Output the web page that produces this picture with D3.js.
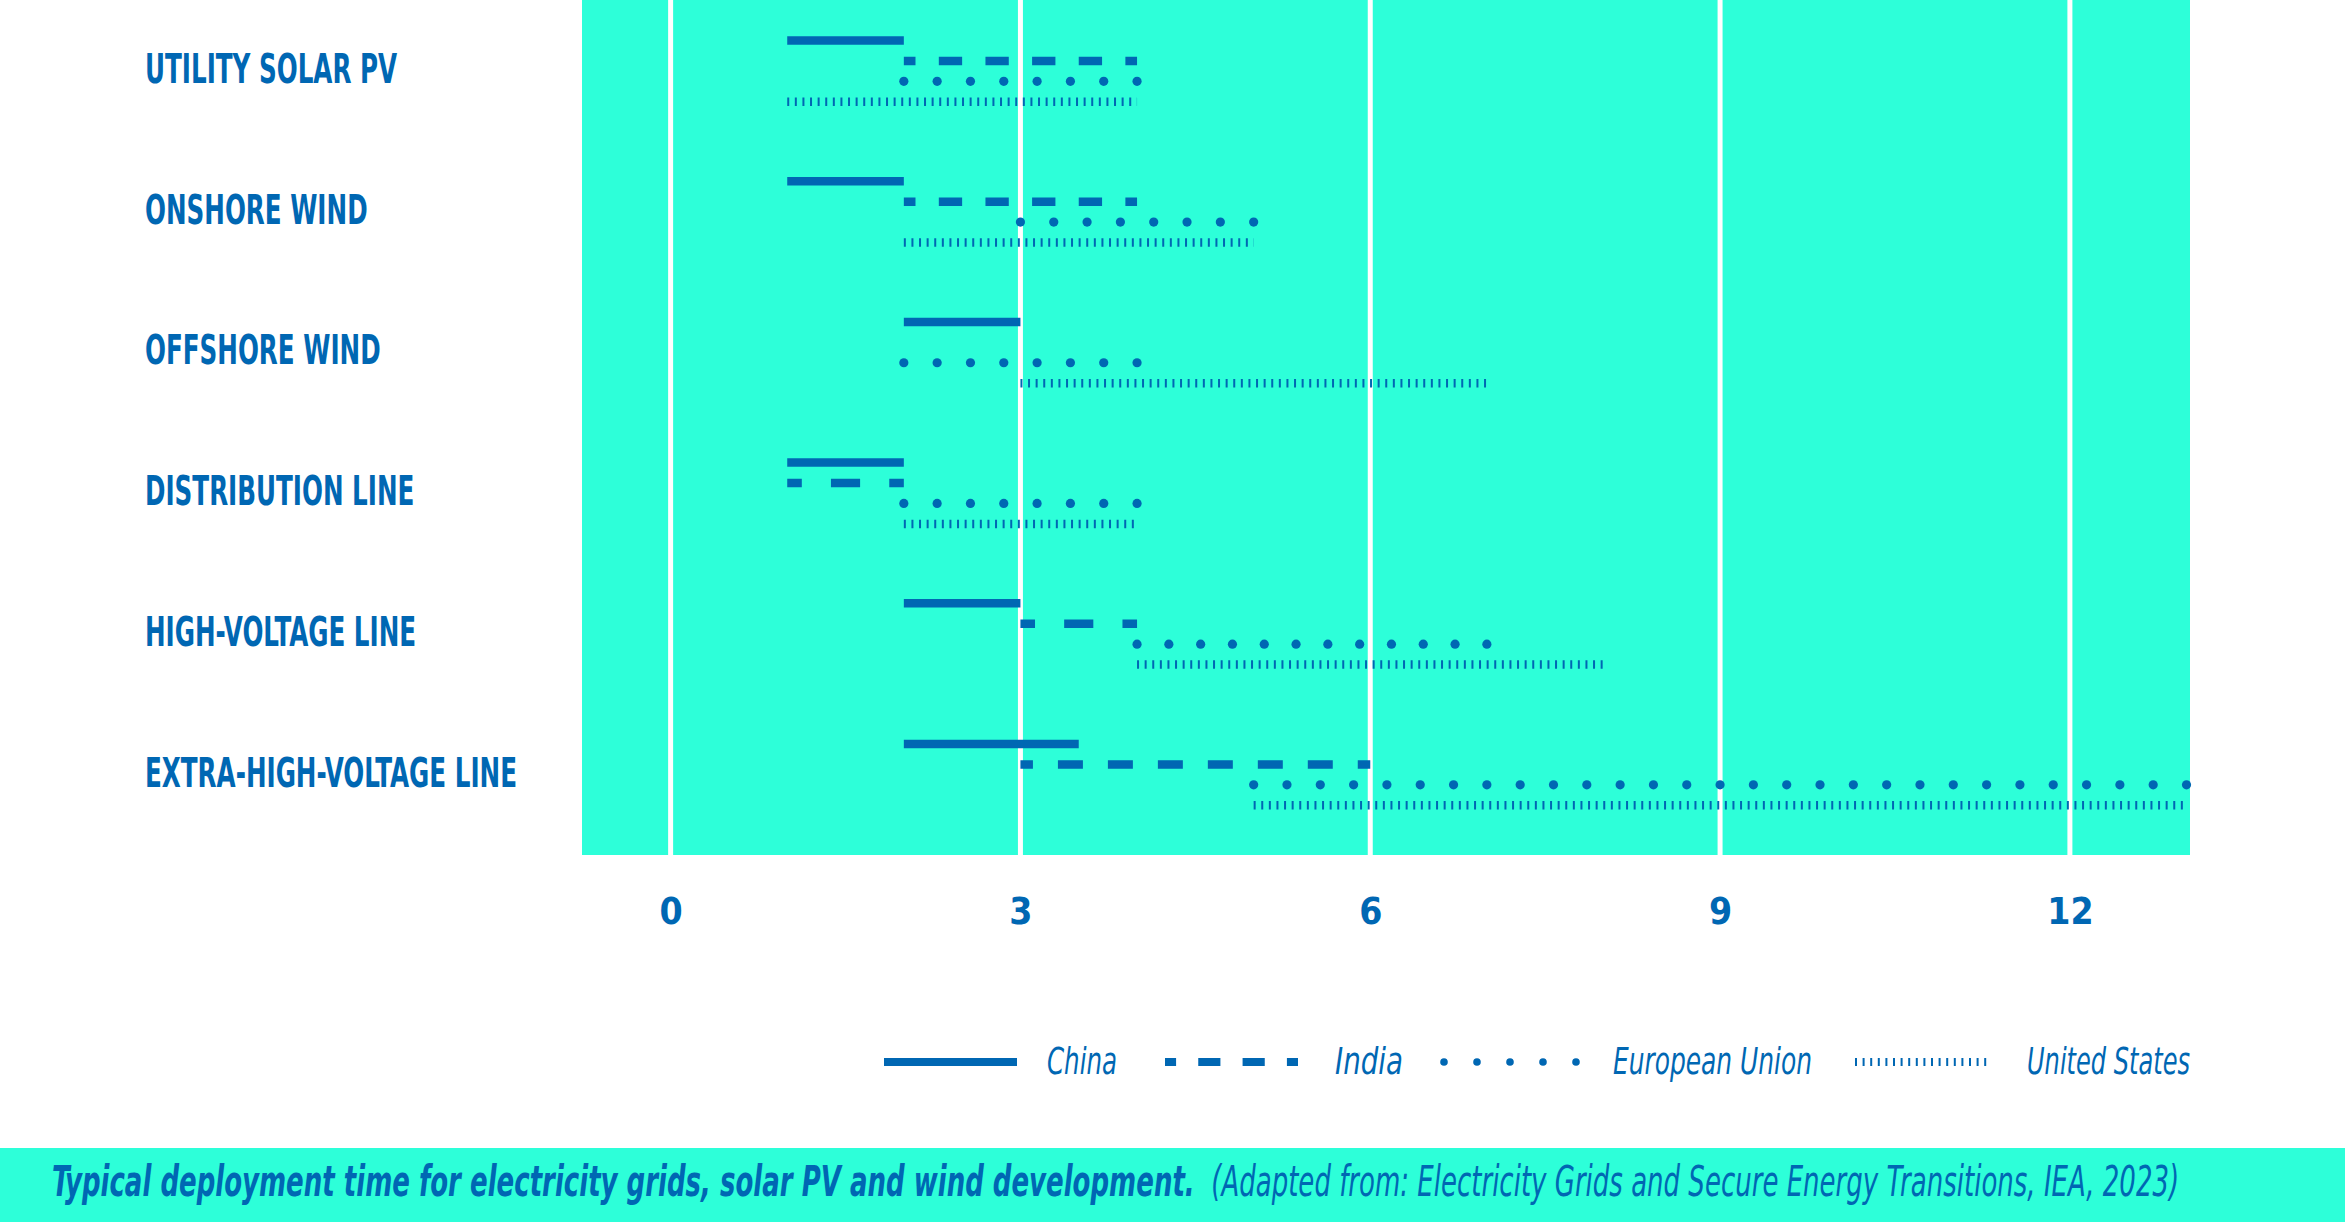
<!DOCTYPE html>
<html>
<head>
<meta charset="utf-8">
<script src="https://cdn.jsdelivr.net/npm/d3@7"></script>
<style>
  html, body { margin: 0; padding: 0; background: #ffffff; }
  svg { display: block; }
</style>
</head>
<body>
<svg id="chart" width="2345" height="1222"></svg>
<script>
// ---------------- DATA ----------------
const categories = [
  "UTILITY SOLAR PV",
  "ONSHORE WIND",
  "OFFSHORE WIND",
  "DISTRIBUTION LINE",
  "HIGH-VOLTAGE LINE",
  "EXTRA-HIGH-VOLTAGE LINE"
];
const seriesNames = ["China", "India", "European Union", "United States"];
// typical deployment time ranges in years [from, to]
const chinaRange = [[1, 2], [1, 2], [2, 3], [1, 2], [2, 3], [2, 3.5]];
const indiaRange = [[2, 4], [2, 4], null, [1, 2], [3, 4], [3, 6]];
const euRange    = [[2, 4], [3, 5], [2, 4], [2, 4], [4, 7], [5, 13]];
const usRange    = [[1, 4], [2, 5], [3, 7], [2, 4], [4, 8], [5, 13]];
const xTickValues = [0, 3, 6, 9, 12];
const captionBold = "Typical deployment time for electricity grids, solar PV and wind development.";
const captionRegular = "(Adapted from: Electricity Grids and Secure Energy Transitions, IEA, 2023)";

// ---------------- STYLE / LAYOUT ----------------
const TEAL = "#2dffd9";
const BLUE = "#0067b3";
const FONT = "'Liberation Sans Narrow', 'DejaVu Sans Condensed', 'Roboto', sans-serif";

const svg = d3.select("#chart");

const x = d3.scaleLinear().domain([-0.76, 13.03]).range([582, 2190]);
const y = d3.scaleBand().domain(categories).range([0, 6 * 140.7]);
const ySub = d3.scalePoint().domain(seriesNames).range([40.5, 101.8]);
const plotBottom = 855;

// background panel
svg.append("rect")
  .attr("x", x(-0.76)).attr("y", 0)
  .attr("width", x(13.03) - x(-0.76)).attr("height", plotBottom)
  .attr("fill", TEAL);

// grid lines
svg.append("g").selectAll("line").data(xTickValues).join("line")
  .attr("x1", d => x(d)).attr("x2", d => x(d))
  .attr("y1", 0).attr("y2", plotBottom)
  .attr("stroke", "#ffffff").attr("stroke-width", 5);

// axis labels (d3 axis, domain/ticks hidden)
const axis = d3.axisBottom(x).tickValues(xTickValues).tickSize(0).tickPadding(0).tickFormat(d3.format("d"));
const axG = svg.append("g").attr("transform", `translate(0,${924})`).call(axis);
axG.select(".domain").remove();
axG.selectAll("text")
  .attr("dy", 0).attr("y", 0)
  .attr("fill", BLUE)
  .style("font-family", FONT).style("font-weight", "bold").style("font-size", "37px");

// ---------------- series drawing ----------------
function fitDash(len, period) {
  const n = Math.max(1, Math.round(len / period));
  return len / n;
}
const drawers = {
  "China": (g, x0, x1, yy, w) => {
    g.append("line").attr("x1", x0).attr("x2", x1).attr("y1", yy).attr("y2", yy)
      .attr("stroke", BLUE).attr("stroke-width", w || 8.5);
  },
  "India": (g, x0, x1, yy, w) => {
    const p = fitDash(x1 - x0, 47);
    g.append("line").attr("x1", x0).attr("x2", x1).attr("y1", yy).attr("y2", yy)
      .attr("stroke", BLUE).attr("stroke-width", w || 8.5)
      .attr("stroke-dasharray", `${p / 2},${p / 2}`)
      .attr("stroke-dashoffset", p / 4);
  },
  "European Union": (g, x0, x1, yy, w, period) => {
    const p = fitDash(x1 - x0, period || 33.3);
    const n = Math.round((x1 - x0) / p);
    g.selectAll(null).data(d3.range(n + 1)).join("circle")
      .attr("cx", k => x0 + k * p).attr("cy", yy)
      .attr("r", (w || 9.2) / 2)
      .attr("fill", BLUE);
  },
  "United States": (g, x0, x1, yy, w) => {
    g.append("line").attr("x1", x0).attr("x2", x1).attr("y1", yy).attr("y2", yy)
      .attr("stroke", BLUE).attr("stroke-width", w || 8.5)
      .attr("stroke-dasharray", "2,5.6");
  }
};
const seriesData = {
  "China": chinaRange,
  "India": indiaRange,
  "European Union": euRange,
  "United States": usRange
};

const rows = svg.append("g");
categories.forEach((cat, i) => {
  const g = rows.append("g").attr("transform", `translate(0,${y(cat)})`);
  seriesNames.forEach(name => {
    const r = seriesData[name][i];
    if (!r) return;
    drawers[name](g, x(r[0]), x(r[1]), ySub(name));
  });
});

// category labels
const labelG = svg.append("g");
const labelTexts = labelG.selectAll("text").data(categories).join("text")
  .attr("x", 145)
  .attr("y", d => y(d) + ySub("China") + 42.5)
  .attr("fill", BLUE)
  .style("font-family", FONT).style("font-weight", "bold").style("font-size", "40px")
  .text(d => d);
const widths = labelTexts.nodes().map(n => n.getComputedTextLength());
const kLabel = 372 / d3.max(widths);
labelTexts.each(function(d, i) {
  d3.select(this).attr("textLength", widths[i] * kLabel).attr("lengthAdjust", "spacingAndGlyphs");
});

// ---------------- legend ----------------
const legendY = 1062;
const legendLayout = {
  "China":          { sx: 884,  len: 133, tx: 1047, tw: 70,  w: 8 },
  "India":          { sx: 1165, len: 133, tx: 1335, tw: 68,  w: 8 },
  "European Union": { sx: 1444, len: 132, tx: 1613, tw: 199, w: 7.6 },
  "United States":  { sx: 1855, len: 135, tx: 2027, tw: 163, w: 8 }
};
const legG = svg.append("g");
seriesNames.forEach(name => {
  const L = legendLayout[name];
  drawers[name](legG, L.sx, L.sx + L.len, legendY, L.w);
  legG.append("text")
    .attr("x", L.tx).attr("y", 1074)
    .attr("fill", BLUE)
    .style("font-family", FONT).style("font-style", "italic").style("font-size", "38px")
    .attr("textLength", L.tw).attr("lengthAdjust", "spacingAndGlyphs")
    .text(name);
});

// ---------------- caption band ----------------
svg.append("rect")
  .attr("x", 0).attr("y", 1148).attr("width", 2345).attr("height", 74)
  .attr("fill", TEAL);
const capG = svg.append("g");
const cap = capG.append("text")
  .attr("x", 0).attr("y", 0)
  .attr("fill", BLUE)
  .style("font-family", FONT).style("font-style", "italic").style("font-size", "42px");
cap.append("tspan").style("font-weight", "bold").text(captionBold);
cap.append("tspan").style("font-weight", "normal").text("\u00a0\u00a0" + captionRegular);
const capW = cap.node().getComputedTextLength();
const kCap = 2128 / capW;
capG.attr("transform", `translate(52,1196) scale(${kCap},1)`);
</script>
</body>
</html>
